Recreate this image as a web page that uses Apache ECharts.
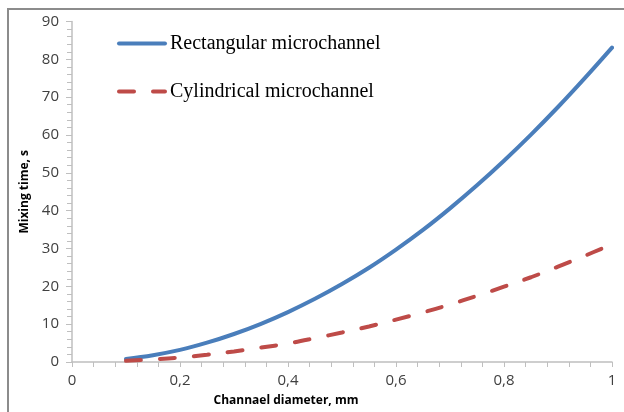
<!DOCTYPE html>
<html>
<head>
<meta charset="utf-8">
<script src="https://cdn.jsdelivr.net/npm/echarts@6/dist/echarts.min.js"></script>
<style>
html,body{margin:0;padding:0;background:#fff;}
#chart{width:624px;height:412px;}
</style>
</head>
<body>
<div id="chart"></div>
<script>
const diameters = [0.1, 0.15, 0.2, 0.25, 0.3, 0.35, 0.4, 0.45, 0.5, 0.55, 0.6, 0.65, 0.7, 0.75, 0.8, 0.85, 0.9, 0.95, 1.0];
const rectangular = [0.8, 1.8, 3.2, 5.1, 7.4, 10.1, 13.2, 16.7, 20.6, 24.9, 29.7, 34.9, 40.6, 46.7, 53.2, 60.1, 67.4, 75.1, 83.1];
const cylindrical = [0.3, 0.7, 1.2, 1.9, 2.8, 3.8, 4.9, 6.3, 7.8, 9.4, 11.2, 13.1, 15.2, 17.5, 19.9, 22.4, 25.2, 28.1, 31.1];
const seriesNames = ['Rectangular microchannel', 'Cylindrical microchannel'];
const xTitle = 'Channael diameter, mm';
const yTitle = 'Mixing time, s';

const chart = echarts.init(document.getElementById('chart'), null, {renderer: 'canvas'});
const tickFont = {fontFamily: 'Open Sans', fontSize: 15, color: '#404040'};
chart.setOption({
  animation: false,
  backgroundColor: '#fff',
  graphic: [{
    type: 'rect', silent: true,
    shape: {x: 8, y: 9, width: 700, height: 500},
    style: {fill: 'none', stroke: '#8c8c8c', lineWidth: 2}
  }],
  grid: {left: 72, right: 12, top: 21.5, bottom: 47.5},
  legend: {
    orient: 'vertical', left: 117, top: 33, padding: 0,
    itemWidth: 46, itemHeight: 14, itemGap: 27,
    itemStyle: {opacity: 0},
    lineStyle: {width: 4, cap: 'round'},
    textStyle: {fontFamily: 'Liberation Serif', fontSize: 20, color: '#000', lineHeight: 21}
  },
  xAxis: {
    type: 'value', min: 0, max: 1, interval: 0.2,
    name: xTitle, nameLocation: 'middle', nameGap: 33,
    nameTextStyle: {fontFamily: 'Open Sans', fontSize: 12, fontWeight: 'bold', color: '#000', padding: [0, 112, 0, 0]},
    axisLine: {show: true, lineStyle: {color: '#bfbfbf', width: 1.5}},
    axisTick: {show: true, length: 5, lineStyle: {color: '#bfbfbf'}},
    minorTick: {show: true, splitNumber: 5, length: 5, lineStyle: {color: '#bfbfbf'}},
    splitLine: {show: false},
    axisLabel: Object.assign({margin: 11, formatter: v => String(v).replace('.', ',')}, tickFont)
  },
  yAxis: {
    type: 'value', min: 0, max: 90, interval: 10,
    name: yTitle, nameLocation: 'middle', nameGap: 40,
    nameTextStyle: {fontFamily: 'Open Sans', fontSize: 12, fontWeight: 'bold', color: '#000'},
    axisLine: {show: true, lineStyle: {color: '#bfbfbf', width: 1.5}},
    axisTick: {show: true, length: 6, lineStyle: {color: '#bfbfbf'}},
    minorTick: {show: true, splitNumber: 5, length: 5, lineStyle: {color: '#bfbfbf'}},
    splitLine: {show: false},
    axisLabel: Object.assign({margin: 13}, tickFont)
  },
  series: [
    {
      name: seriesNames[0], type: 'line', smooth: 0.4, symbol: 'none',
      data: diameters.map((d, i) => [d, rectangular[i]]),
      itemStyle: {color: '#4a7ebb'},
      lineStyle: {color: '#4a7ebb', width: 4, cap: 'round'}
    },
    {
      name: seriesNames[1], type: 'line', smooth: 0.4, symbol: 'none',
      data: diameters.map((d, i) => [d, cylindrical[i]]),
      itemStyle: {color: '#be4b48'},
      lineStyle: {color: '#be4b48', width: 4, type: [15, 19], cap: 'round'}
    }
  ]
});
</script>
</body>
</html>
